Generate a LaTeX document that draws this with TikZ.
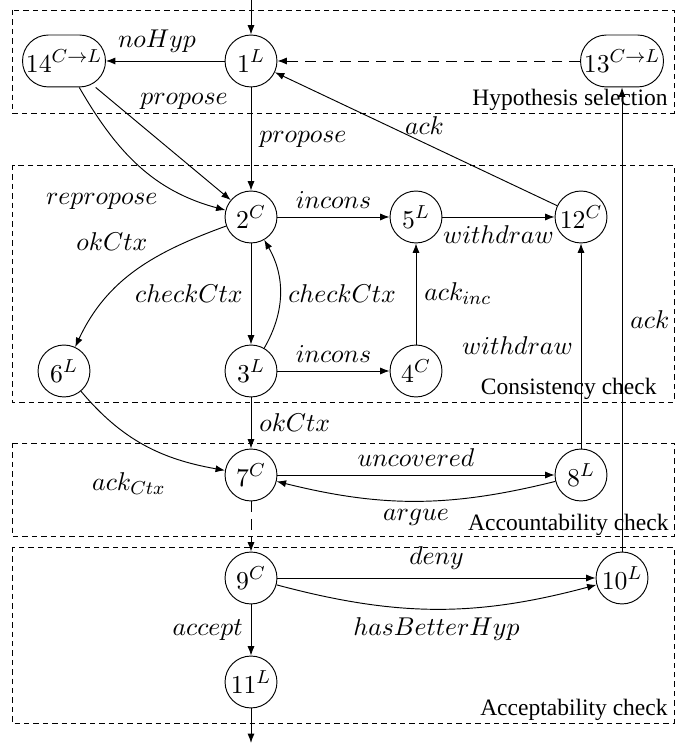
\documentclass[tikz,border=0pt]{standalone}
\usepackage[no-math]{fontspec}
\setmainfont{Liberation Serif}
\usetikzlibrary{arrows.meta}
\begin{document}
\begin{tikzpicture}[x=0.4255pt,y=0.4255pt,
  font=\fontsize{10.95}{13}\selectfont,
  st/.style={circle,draw,inner sep=0pt,minimum size=22.1pt},
  rst/.style={rectangle,draw,rounded corners=11pt,inner sep=0pt,minimum width=35.3pt,minimum height=22.1pt},
  arr/.style={-{Latex[length=4pt,width=3pt]}},
  dsh/.style={dash pattern=on 4.5pt off 3pt},
  boxline/.style={dash pattern=on 2.3pt off 1.7pt},
  boxlabel/.style={anchor=base east,inner sep=0pt,font=\fontsize{10}{12}\selectfont}
]
\useasboundingbox (0,0) rectangle (694,744);
% group boxes
\draw[boxline] (12,734) rectangle (674,631);
\draw[boxline] (12,579) rectangle (674,342);
\draw[boxline] (12,301) rectangle (674,208);
\draw[boxline] (12,197) rectangle (674,21);
\node[boxlabel] (lbhyp) at (668,638) {Hypothesis selection};
\node[boxlabel] (lbcons) at (657,349) {Consistency check};
\node[boxlabel] (lbacc) at (669,213) {Accountability check};
\node[boxlabel] (lbaccept) at (668,28) {Acceptability check};
% states
\node[st] (n1) at (251,683) {$1^L$};
\node[rst] (n14) at (64,683) {$14^{C\to L}$};
\node[rst] (n13) at (622,683) {$13^{C\to L}$};
\node[st] (n2) at (251,527) {$2^C$};
\node[st] (n5) at (416,527) {$5^L$};
\node[st] (n12) at (581,527) {$12^C$};
\node[st] (n6) at (64,373) {$6^L$};
\node[st] (n3) at (251,373) {$3^L$};
\node[st] (n4) at (416,373) {$4^C$};
\node[st] (n7) at (251,269) {$7^C$};
\node[st] (n8) at (581,269) {$8^L$};
\node[st] (n9) at (251,166) {$9^C$};
\node[st] (n10) at (622,166) {$10^L$};
\node[st] (n11) at (251,62) {$11^L$};
\coordinate (entry) at (251,744);
\coordinate (exitpt) at (251,1);
% transitions
\draw[arr] (entry) -- (n1);
\draw[arr] (n1) -- node[above,pos=0.57]{$noHyp$} (n14);
\draw[arr,dsh] (n13) -- (n1);
\draw[arr] (n1) -- node[right]{$propose$} (n2);
\draw[arr] (n14) -- node[pos=0.27,above right]{$propose$} (n2);
\draw[arr] (n14) to[out=-60,in=165] node[pos=0.68,below left]{$repropose$} (n2);
\draw[arr] (n2) -- node[above]{$incons$} (n5);
\draw[arr] (n5) -- node[below]{$withdraw$} (n12);
\draw[arr] (n12) -- node[pos=0.47,above]{$ack$} (n1);
\draw[arr] (n2) to[out=200,in=65] node[pos=0.2,left=13pt]{$okCtx$} (n6);
\draw[arr] (n2) -- node[left]{$checkCtx$} (n3);
\draw[arr] (n3) to[bend right=30] node[right]{$checkCtx$} (n2);
\draw[arr] (n3) -- node[above]{$incons$} (n4);
\draw[arr] (n4) -- node[right]{$ack_{inc}$} (n5);
\draw[arr] (n8) -- node[left]{$withdraw$} (n12);
\draw[arr] (n10) -- node[right]{$ack$} (n13);
\draw[arr] (n3) -- node[right]{$okCtx$} (n7);
\draw[arr] (n6) to[out=-50,in=170] node[pos=0.7,below left,yshift=-3pt]{$ack_{Ctx}$} (n7);
\draw[arr] (n7) -- node[above]{$uncovered$} (n8);
\draw[arr] (n8) to[bend left=14] node[below]{$argue$} (n7);
\draw[arr,dsh] (n7) -- (n9);
\draw[arr] (n9) -- node[above]{$deny$} (n10);
\draw[arr] (n9) to[bend right=15] node[below]{$hasBetterHyp$} (n10);
\draw[arr] (n9) -- node[left]{$accept$} (n11);
\draw[arr] (n11) -- (exitpt);
\end{tikzpicture}
\end{document}
